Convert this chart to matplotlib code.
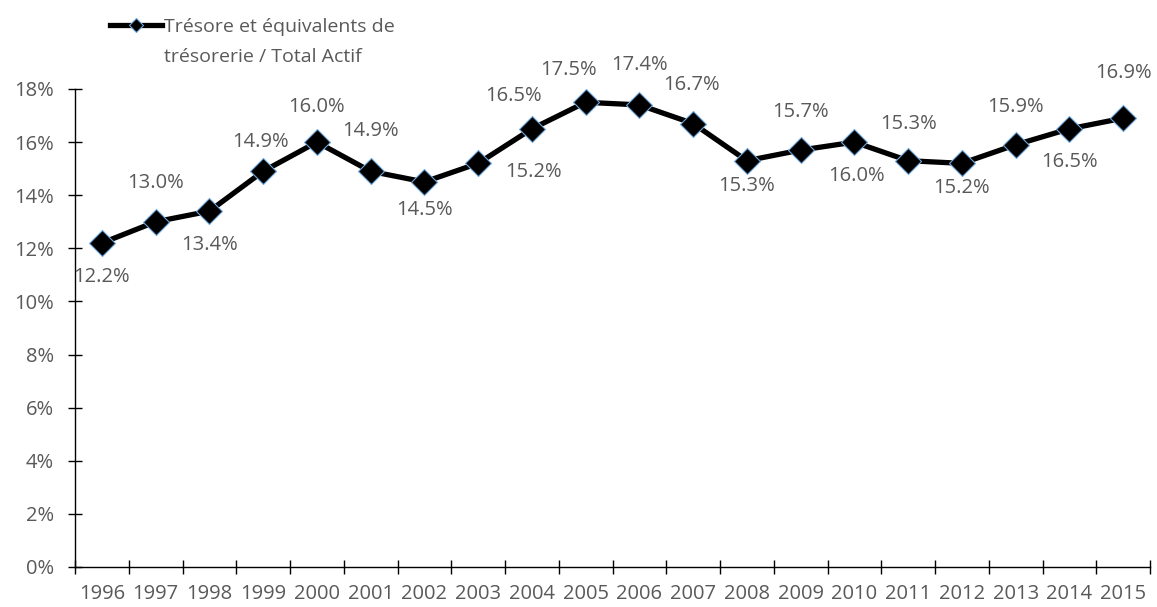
import matplotlib.pyplot as plt
from matplotlib.ticker import FuncFormatter

years = [str(y) for y in range(1996, 2016)]
ratio = [12.2, 13.0, 13.4, 14.9, 16.0, 14.9, 14.5, 15.2, 16.5, 17.5,
         17.4, 16.7, 15.3, 15.7, 16.0, 15.3, 15.2, 15.9, 16.5, 16.9]
series_name = ["Trésore et équivalents de", "trésorerie / Total Actif"]

# label offsets in pixels (dx, dy) relative to each marker
label_offsets = [(0, -34), (0, 39), (0, -34), (-3, 29), (0, 35), (0, 40),
                 (0, -28), (55, -9), (-18, 33), (-17, 32), (0, 40), (-2, 39),
                 (0, -25), (0, 38), (2, -34), (0, 37), (0, -25), (0, 38),
                 (0, -33), (0, 45)]

grey = "#595959"
fs = 14.5
plt.rcParams["font.family"] = ["Open Sans", "DejaVu Sans"]

fig = plt.figure(figsize=(11.57, 6.07), dpi=100)
ax = fig.add_axes([75 / 1157, 40 / 607, 1075 / 1157, 478 / 607])

x = list(range(len(years)))
line, = ax.plot(x, ratio, color="black", lw=3.8, marker="D", markersize=13.5,
                markerfacecolor="black", markeredgecolor="#6fa8dc",
                markeredgewidth=0.8, label=series_name[0], zorder=3)

for xi, v, (dx, dy) in zip(x, ratio, label_offsets):
    ax.annotate(f"{v:.1f}%", (xi, v), xytext=(dx, dy), textcoords="offset pixels",
                ha="center", va="center", fontsize=fs, color=grey)

ax.set_xlim(-0.5, len(years) - 0.5)
ax.set_ylim(0, 18)
ax.set_yticks(range(0, 19, 2))
ax.yaxis.set_major_formatter(FuncFormatter(lambda v, p: f"{v:.0f}%"))
ax.set_xticks([i - 0.5 for i in range(len(years) + 1)])
ax.set_xticklabels([])
ax.set_xticks(x, minor=True)
ax.set_xticklabels(years, minor=True)
ax.tick_params(axis="x", which="minor", length=0, pad=12, labelsize=fs, labelcolor=grey)
ax.tick_params(axis="x", which="major", direction="inout", length=10, width=1)
ax.tick_params(axis="y", direction="inout", length=10, width=1, pad=10,
               labelsize=fs, labelcolor=grey)

for side in ["top", "right"]:
    ax.spines[side].set_visible(False)
for side in ["left", "bottom"]:
    ax.spines[side].set_linewidth(1)

# legend: handle beside the first line, second line of the name under it
leg = ax.legend(handles=[line], loc="upper left", bbox_to_anchor=(98 / 1157, 1 - 6 / 607),
                bbox_transform=fig.transFigure, frameon=False, fontsize=14,
                labelcolor=grey, handlelength=2.7, handletextpad=0.1,
                markerscale=0.55, borderaxespad=0.2)
fig.canvas.draw()
bb = leg.get_texts()[0].get_window_extent()
fig.text(bb.x0 / fig.bbox.width, (bb.y0 - 30) / fig.bbox.height, series_name[1],
         fontsize=14, color=grey, ha="left", va="bottom")

fig.savefig("out.png", dpi=100)
